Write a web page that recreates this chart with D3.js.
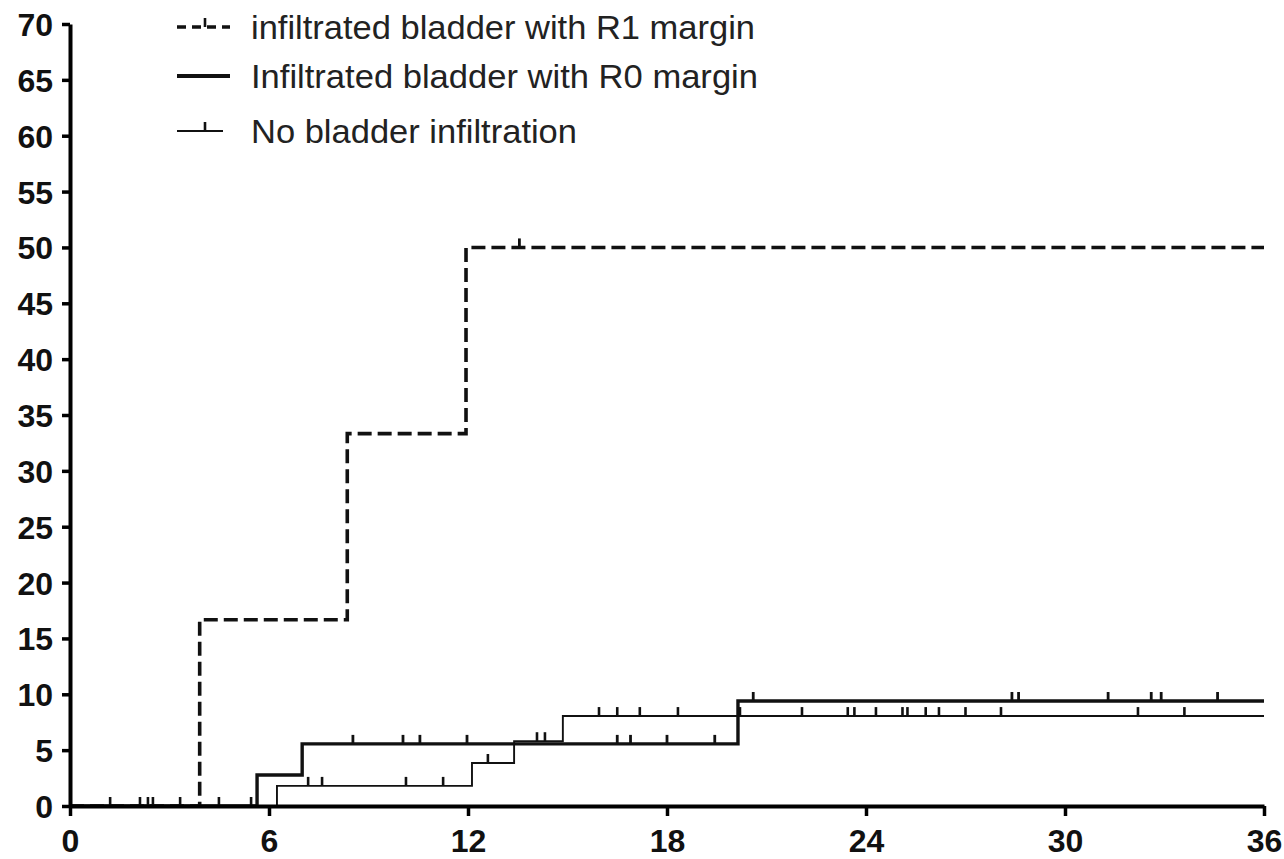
<!DOCTYPE html>
<html>
<head>
<meta charset="utf-8">
<script src="https://cdn.jsdelivr.net/npm/d3@7"></script>
<style>
  html, body { margin: 0; padding: 0; background: #fff; }
  svg { display: block; }
</style>
</head>
<body>
<svg id="chart" width="1284" height="859"></svg>
<script>
// ---- Data ----
const seriesNames = ["infiltrated bladder with R1 margin", "Infiltrated bladder with R0 margin", "No bladder infiltration"];

const r1Times  = [0, 3.91, 8.36, 11.94, 36];
const r1Values = [0, 16.67, 33.33, 50, 50];
const r1Censor = [13.55];

const r0Times  = [0, 5.64, 7.0, 20.14, 36];
const r0Values = [0, 2.78, 5.56, 9.4, 9.4];
const r0Censor = [8.53, 10.04, 10.55, 11.97, 16.5, 16.9, 18.0, 19.44, 20.6, 28.4, 28.6, 31.3, 32.6, 32.9, 34.6];

const noTimes  = [0, 6.24, 12.12, 13.39, 14.86, 36];
const noValues = [0, 1.8, 3.85, 5.8, 8.05, 8.05];
const noCensor = [1.21, 2.11, 2.35, 2.5, 3.32, 4.49, 5.46, 7.18, 7.6, 10.13, 11.25, 12.6, 14.08, 14.32,
                  15.95, 16.5, 17.18, 18.33, 20.2, 22.07, 23.45, 23.65, 24.3, 25.1, 25.25, 25.8, 26.2,
                  27.0, 28.07, 32.2, 33.6];

const xTicks = [0, 6, 12, 18, 24, 30, 36];
const yTicks = [0, 5, 10, 15, 20, 25, 30, 35, 40, 45, 50, 55, 60, 65, 70];

// ---- Layout ----
const svg = d3.select("#chart");
const x = d3.scaleLinear().domain([0, 36]).range([70, 1264]);
const y = d3.scaleLinear().domain([0, 70]).range([806, 24]);

const labelFont = "'Liberation Sans Narrow', 'Liberation Sans', Arial, sans-serif";

function stepValue(times, values, t) {
  let v = values[0];
  for (let i = 0; i < times.length; i++) { if (times[i] <= t) v = values[i]; }
  return v;
}

const series = [
  { name: seriesNames[0], times: r1Times, values: r1Values, censor: r1Censor, width: 3.6, dash: "14,6", tickW: 2.8 },
  { name: seriesNames[1], times: r0Times, values: r0Values, censor: r0Censor, width: 3.4, dash: null, tickW: 2.8 },
  { name: seriesNames[2], times: noTimes, values: noValues, censor: noCensor, width: 1.9, dash: null, tickW: 2.6 }
];

const line = d3.line().x(d => x(d[0])).y(d => y(d[1])).curve(d3.curveStepAfter);

// curves
series.forEach(s => {
  const pts = s.times.map((t, i) => [t, s.values[i]]);
  svg.append("path")
    .attr("d", line(pts))
    .attr("fill", "none")
    .attr("stroke", "#111")
    .attr("stroke-width", s.width)
    .attr("stroke-dasharray", s.dash)
    .attr("stroke-linejoin", "miter");
  // censor marks
  svg.append("g").selectAll("line")
    .data(s.censor)
    .join("line")
    .attr("x1", d => x(d)).attr("x2", d => x(d))
    .attr("y1", d => y(stepValue(s.times, s.values, d)))
    .attr("y2", d => y(stepValue(s.times, s.values, d)) - 9)
    .attr("stroke", "#111")
    .attr("stroke-width", s.tickW);
});

// axes
const xAxis = svg.append("g")
  .attr("transform", `translate(0,${y(0)})`)
  .call(d3.axisBottom(x).tickValues(xTicks).tickSize(10).tickSizeOuter(0).tickPadding(13));
const yAxis = svg.append("g")
  .attr("transform", `translate(${x(0)},0)`)
  .call(d3.axisLeft(y).tickValues(yTicks).tickSize(8).tickSizeOuter(0).tickPadding(9));

[xAxis, yAxis].forEach(a => {
  a.select(".domain").attr("stroke", "#000").attr("stroke-width", 4);
  a.selectAll(".tick line").attr("stroke", "#000").attr("stroke-width", 3.5);
  a.selectAll(".tick text")
    .attr("fill", "#111")
    .style("font-family", labelFont)
    .style("font-weight", "bold")
    .style("font-size", "32px");
});
yAxis.selectAll(".tick text").attr("dy", "0.36em");

// legend
const legendRows = [27, 76, 131];
const legendTextEnd = [755, 758, 577];
const legend = svg.append("g");
series.forEach((s, i) => {
  const ly = legendRows[i];
  const x1 = 177, x2 = i === 2 ? 223 : 230;
  legend.append("line")
    .attr("x1", x1).attr("x2", x2).attr("y1", ly).attr("y2", ly)
    .attr("stroke", "#111")
    .attr("stroke-width", i === 2 ? 1.9 : (i === 1 ? 4 : 3.6))
    .attr("stroke-dasharray", i === 0 ? "9,6" : null);
  if (s.censor.length && i !== 1) {
    legend.append("line")
      .attr("x1", 205).attr("x2", 205).attr("y1", ly).attr("y2", ly - 9)
      .attr("stroke", "#111").attr("stroke-width", 2.6);
  }
  legend.append("text")
    .attr("x", 251)
    .attr("y", ly + 12)
    .attr("textLength", legendTextEnd[i] - 251)
    .attr("lengthAdjust", "spacingAndGlyphs")
    .attr("fill", "#222")
    .style("font-family", labelFont)
    .style("font-size", "33px")
    .text(s.name);
});
</script>
</body>
</html>
